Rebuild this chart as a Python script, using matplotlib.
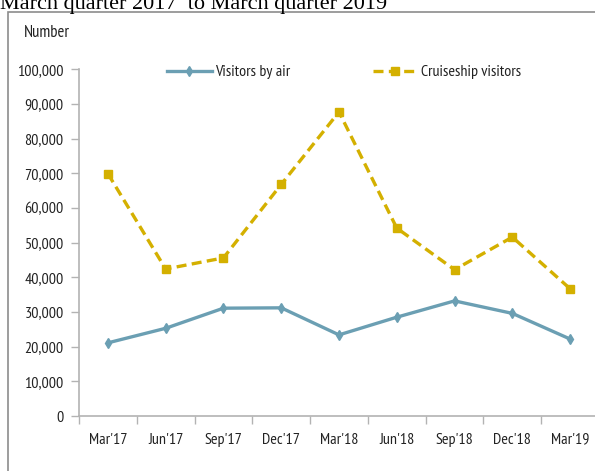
import matplotlib
matplotlib.use("Agg")
import matplotlib.pyplot as plt
from matplotlib.patches import Rectangle
from matplotlib.ticker import FuncFormatter, FixedLocator

categories = ["Mar'17", "Jun'17", "Sep'17", "Dec'17", "Mar'18", "Jun'18", "Sep'18", "Dec'18", "Mar'19"]
air_visitors = [21100, 25300, 31100, 31200, 23400, 28500, 33200, 29600, 22200]
cruise_visitors = [69900, 42400, 45600, 66800, 87700, 54200, 42200, 51600, 36700]
y_ticks = [0, 10000, 20000, 30000, 40000, 50000, 60000, 70000, 80000, 90000, 100000]

plt.rcParams['font.family'] = ['PT Sans Narrow', 'DejaVu Sans']

W, H = 595, 471
fig = plt.figure(figsize=(W / 100, H / 100), dpi=100)

# outer border
fig.patches.append(Rectangle((8 / W, -0.05), 1.1, 1 - 12 / H + 0.05, transform=fig.transFigure,
                             fill=False, edgecolor="#8c8c8c", linewidth=1.2))

fig.text(0.0, 1 - 9.5 / H, "March quarter 2017  to March quarter 2019", family="Liberation Serif",
         fontsize=16, va="baseline", ha="left", color="black")
fig.text(24 / W, 1 - 33 / H, "Number", fontsize=12, va="center", ha="left", color="#222222")

ax = fig.add_axes([79 / W, 1 - 416 / H, 520 / W, (416 - 69.3) / H])
x = list(range(len(categories)))
l1, = ax.plot(x, air_visitors, color="#6b9fb3", lw=2.4, marker="d", ms=5, label="Visitors by air")
l2, = ax.plot(x, cruise_visitors, color="#d4b000", lw=2.4, ls=(0, (3, 1.6)), marker="s", ms=5.5,
              label="Cruiseship visitors")

ax.set_xlim(-0.5, 8.5)
ax.set_ylim(0, 100000)
ax.set_yticks(y_ticks)
ax.yaxis.set_major_formatter(FuncFormatter(lambda v, p: f"{int(v):,}"))
ax.set_xticks(x)
ax.set_xticklabels(categories)
ax.xaxis.set_minor_locator(FixedLocator([i - 0.5 for i in range(len(categories) + 1)]))

for s in ["top", "right"]:
    ax.spines[s].set_visible(False)
for s in ["left", "bottom"]:
    ax.spines[s].set_color("#b3b3b3")
    ax.spines[s].set_linewidth(1.2)

ax.tick_params(axis="y", length=6, width=1, color="#b3b3b3", pad=5, labelsize=11.5, labelcolor="#222222")
ax.tick_params(axis="x", which="major", length=0, pad=12, labelsize=11.5, labelcolor="#222222")
ax.tick_params(axis="x", which="minor", length=6, width=1, color="#b3b3b3", direction="out")
ax.patch.set_alpha(0)

common = dict(loc="center left", frameon=False, fontsize=11.5, borderpad=0, borderaxespad=0,
              handletextpad=0.2, labelcolor="#222222", bbox_transform=fig.transFigure)
fig.legend([l1], ["Visitors by air"], bbox_to_anchor=(167 / W, 1 - 72 / H), handlelength=2.8, **common)
fig.legend([l2], ["Cruiseship visitors"], bbox_to_anchor=(373 / W, 1 - 72 / H), handlelength=2.8, **common)

fig.savefig("out.png", dpi=100)
